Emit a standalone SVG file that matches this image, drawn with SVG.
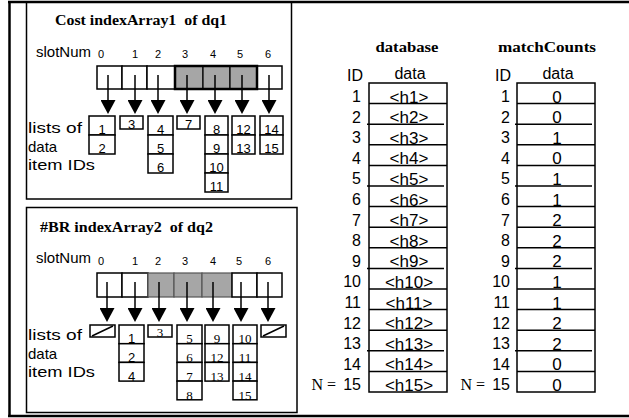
<svg xmlns="http://www.w3.org/2000/svg" width="629" height="418" viewBox="0 0 629 418">
<style>
.ln{fill:none;stroke:#000;stroke-width:1.5}
.fr{fill:none;stroke:#000;stroke-width:2.5}
.box{fill:#fff;stroke:#000;stroke-width:1.5}
.sh{fill:#a6a6a6;stroke:#000;stroke-width:1.2}
.sh2{fill:#a6a6a6;stroke:#555;stroke-width:1.2}
.thk{fill:none;stroke:#000;stroke-width:2.5}
.arr{stroke:#000;stroke-width:1.5;marker-end:url(#ah)}
.ttl{font-family:"Liberation Serif",serif;font-weight:bold;font-size:15px}
text{fill:#000}
.s{font-family:"Liberation Sans",sans-serif}
.sr{font-family:"Liberation Serif",serif}
.dg{font-size:11px;text-anchor:middle}
.lb{font-size:15px}
.n{font-size:13px;text-anchor:middle}
.t{font-size:16px}
.d{font-size:17px}
.m{text-anchor:middle}
.e{text-anchor:end}
</style>
<defs>
<marker id="ah" markerUnits="userSpaceOnUse" viewBox="0 0 14 15" refX="0" refY="7.5" markerWidth="14" markerHeight="15" orient="auto">
<path d="M0,0 L14,7.5 L0,15 Z" fill="#000"/>
</marker>
</defs>

<g id="frame">
<line class="fr" x1="9.5" y1="1" x2="9.5" y2="417"/>
<line class="fr" x1="8" y1="2" x2="629" y2="2"/>
<line class="fr" x1="8" y1="416" x2="629" y2="416"/>
</g>

<g id="panel1">
<rect class="ln" x="26.5" y="2" width="265" height="197"/>
<text class="ttl" x="55" y="25" xml:space="preserve" textLength="172" lengthAdjust="spacingAndGlyphs">Cost indexArray1  of dq1</text>
<text class="s lb" x="36" y="57" textLength="55" lengthAdjust="spacingAndGlyphs">slotNum</text>
<g class="s dg">
<text x="101" y="58">0</text><text x="135" y="58">1</text><text x="158" y="58">2</text><text x="185" y="58">3</text><text x="213" y="58">4</text><text x="240" y="58">5</text><text x="268" y="58">6</text>
</g>
<g id="array1">
<rect class="box" x="97" y="66" width="25" height="23"/>
<rect class="box" x="122" y="66" width="25" height="23"/>
<rect class="box" x="147" y="66" width="28" height="23"/>
<rect class="sh" x="175" y="66" width="28" height="23"/>
<rect class="sh" x="203" y="66" width="27" height="23"/>
<rect class="sh" x="230" y="66" width="27" height="23"/>
<rect class="box" x="257" y="66" width="25" height="23"/>
<rect class="thk" x="175" y="66" width="82" height="23"/>
</g>
<text class="s lb" x="28" y="133" textLength="54" lengthAdjust="spacingAndGlyphs">lists of</text>
<text class="s lb" x="28" y="152">data</text>
<text class="s lb" x="28" y="170" textLength="67" lengthAdjust="spacingAndGlyphs">item IDs</text>
<g id="lists1" class="s n">
<rect class="box" x="89" y="116" width="26" height="19"/><rect class="box" x="89" y="135" width="26" height="19"/>
<text x="102" y="134">1</text><text x="102" y="153">2</text>
<rect class="box" x="120" y="116" width="23" height="13"/>
<text x="131.5" y="129">3</text>
<rect class="box" x="148" y="116" width="25" height="19"/><rect class="box" x="148" y="135" width="25" height="19"/><rect class="box" x="148" y="154" width="25" height="19"/>
<text x="160.5" y="134">4</text><text x="160.5" y="153">5</text><text x="160.5" y="172">6</text>
<rect class="box" x="177" y="116" width="23" height="13"/>
<text x="188.5" y="129">7</text>
<rect class="box" x="205" y="116" width="23" height="19"/><rect class="box" x="205" y="135" width="23" height="19"/><rect class="box" x="205" y="154" width="23" height="19"/><rect class="box" x="205" y="173" width="23" height="19"/>
<text x="216.5" y="134">8</text><text x="216.5" y="153">9</text><text x="216.5" y="172">10</text><text x="216.5" y="191">11</text>
<rect class="box" x="232" y="116" width="23" height="19"/><rect class="box" x="232" y="135" width="23" height="19"/>
<text x="243.5" y="134">12</text><text x="243.5" y="153">13</text>
<rect class="box" x="260" y="116" width="23" height="19"/><rect class="box" x="260" y="135" width="23" height="19"/>
<text x="271.5" y="134">14</text><text x="271.5" y="153">15</text>
</g>
</g>

<g id="panel2">
<rect class="ln" x="26.5" y="207.5" width="270.5" height="205"/>
<text class="ttl" x="40" y="232" xml:space="preserve" textLength="173" lengthAdjust="spacingAndGlyphs">#BR indexArray2  of dq2</text>
<text class="s lb" x="36" y="263" textLength="55" lengthAdjust="spacingAndGlyphs">slotNum</text>
<g class="s dg">
<text x="101" y="265">0</text><text x="135" y="265">1</text><text x="158" y="265">2</text><text x="185" y="265">3</text><text x="213" y="265">4</text><text x="239" y="265">5</text><text x="268" y="265">6</text>
</g>
<g id="array2">
<rect class="box" x="97" y="273" width="25" height="24"/>
<rect class="box" x="122" y="273" width="26" height="24"/>
<rect class="sh2" x="148" y="273" width="26" height="24"/>
<rect class="sh2" x="174" y="273" width="28" height="24"/>
<rect class="sh2" x="202" y="273" width="30" height="24"/>
<rect class="box" x="232" y="273" width="25" height="24"/>
<rect class="box" x="257" y="273" width="25" height="24"/>
</g>
<text class="s lb" x="28" y="340" textLength="54" lengthAdjust="spacingAndGlyphs">lists of</text>
<text class="s lb" x="28" y="359">data</text>
<text class="s lb" x="28" y="377" textLength="67" lengthAdjust="spacingAndGlyphs">item IDs</text>
<g id="lists2" class="n">
<rect class="box" x="90" y="325" width="25" height="12"/><line class="ln" x1="92" y1="336" x2="113" y2="326"/>
<rect class="box" x="119" y="325" width="25" height="18.7"/><rect class="box" x="119" y="343.7" width="25" height="18.7"/><rect class="box" x="119" y="362.4" width="25" height="18.7"/>
<text class="s" x="131.5" y="343">1</text><text class="s" x="131.5" y="362">2</text><text class="s" x="131.5" y="381">4</text>
<rect class="box" x="148" y="325" width="24" height="12"/>
<text class="sr" x="160" y="337">3</text>
<rect class="box" x="177" y="325" width="25" height="18.7"/><rect class="box" x="177" y="343.7" width="25" height="18.7"/><rect class="box" x="177" y="362.4" width="25" height="18.7"/><rect class="box" x="177" y="381.1" width="25" height="18.7"/>
<text class="sr" x="189.5" y="343">5</text><text class="sr" x="189.5" y="362">6</text><text class="sr" x="189.5" y="381">7</text><text class="sr" x="189.5" y="400">8</text>
<rect class="box" x="205" y="325" width="24" height="18.7"/><rect class="box" x="205" y="343.7" width="24" height="18.7"/><rect class="box" x="205" y="362.4" width="24" height="18.7"/>
<text class="sr" x="217" y="343">9</text><text class="sr" x="217" y="362">12</text><text class="sr" x="217" y="381">13</text>
<rect class="box" x="233" y="325" width="24" height="18.7"/><rect class="box" x="233" y="343.7" width="24" height="18.7"/><rect class="box" x="233" y="362.4" width="24" height="18.7"/><rect class="box" x="233" y="381.1" width="24" height="18.7"/>
<text class="sr" x="245" y="343">10</text><text class="sr" x="245" y="362">11</text><text class="sr" x="245" y="381">14</text><text class="sr" x="245" y="400">15</text>
<rect class="box" x="261" y="325" width="25" height="12"/><line class="ln" x1="263" y1="336" x2="284" y2="326"/>
</g>
</g>

<g id="connectors">
<line class="arr" x1="108" y1="75" x2="108" y2="100"/>
<line class="arr" x1="135" y1="75" x2="135" y2="100"/>
<line class="arr" x1="158" y1="75" x2="158" y2="100"/>
<line class="arr" x1="187" y1="75" x2="187" y2="100"/>
<line class="arr" x1="215" y1="75" x2="215" y2="100"/>
<line class="arr" x1="242" y1="75" x2="242" y2="100"/>
<line class="arr" x1="269" y1="75" x2="269" y2="100"/>
<line class="arr" x1="107" y1="282" x2="107" y2="308"/>
<line class="arr" x1="135" y1="282" x2="135" y2="308"/>
<line class="arr" x1="159" y1="282" x2="159" y2="308"/>
<line class="arr" x1="187" y1="282" x2="187" y2="308"/>
<line class="arr" x1="213" y1="282" x2="213" y2="308"/>
<line class="arr" x1="241" y1="282" x2="241" y2="308"/>
<line class="arr" x1="268" y1="282" x2="268" y2="308"/>
</g>

<g id="database">
<text class="ttl m" x="407" y="52" textLength="63" lengthAdjust="spacingAndGlyphs">database</text>
<text class="s t m" x="355" y="81">ID</text>
<text class="s t m" x="410" y="79">data</text>
<rect class="ln" x="369" y="83" width="78" height="309"/>
<g class="ln">
<line x1="369" y1="103.6" x2="447" y2="103.6"/>
<line x1="367" y1="124.2" x2="444" y2="124.2"/>
<line x1="369" y1="144.8" x2="447" y2="144.8"/>
<line x1="369" y1="165.4" x2="447" y2="165.4"/>
<line x1="367" y1="186" x2="444" y2="186"/>
<line x1="369" y1="206.6" x2="447" y2="206.6"/>
<line x1="369" y1="227.2" x2="447" y2="227.2"/>
<line x1="369" y1="247.8" x2="447" y2="247.8"/>
<line x1="367" y1="268.4" x2="444" y2="268.4"/>
<line x1="369" y1="289" x2="447" y2="289"/>
<line x1="369" y1="309.6" x2="447" y2="309.6"/>
<line x1="369" y1="330.2" x2="447" y2="330.2"/>
<line x1="367" y1="350.8" x2="444" y2="350.8"/>
<line x1="369" y1="371.4" x2="447" y2="371.4"/>
</g>
<g class="s t e">
<text x="361" y="102">1</text><text x="361" y="122.6">2</text><text x="361" y="143.2">3</text><text x="361" y="163.8">4</text><text x="361" y="184.4">5</text><text x="361" y="205">6</text><text x="361" y="225.6">7</text><text x="361" y="246.2">8</text><text x="361" y="266.8">9</text><text x="361" y="287.4">10</text><text x="361" y="308">11</text><text x="361" y="328.6">12</text><text x="361" y="349.2">13</text><text x="361" y="369.8">14</text><text x="361" y="390.4">15</text>
</g>
<text class="sr t e" x="340" y="390.4" xml:space="preserve">N = </text>
<g class="s d m">
<text x="409" y="102.6">&lt;h1&gt;</text><text x="409" y="123.2">&lt;h2&gt;</text><text x="409" y="143.8">&lt;h3&gt;</text><text x="409" y="164.4">&lt;h4&gt;</text><text x="409" y="185">&lt;h5&gt;</text><text x="409" y="205.6">&lt;h6&gt;</text><text x="409" y="226.2">&lt;h7&gt;</text><text x="409" y="246.8">&lt;h8&gt;</text><text x="409" y="267.4">&lt;h9&gt;</text><text x="409" y="288">&lt;h10&gt;</text><text x="409" y="308.6">&lt;h11&gt;</text><text x="409" y="329.2">&lt;h12&gt;</text><text x="409" y="349.8">&lt;h13&gt;</text><text x="409" y="370.4">&lt;h14&gt;</text><text x="409" y="391">&lt;h15&gt;</text>
</g>
</g>

<g id="matchCounts">
<text class="ttl m" x="547" y="52" textLength="98" lengthAdjust="spacingAndGlyphs">matchCounts</text>
<text class="s t m" x="503" y="81">ID</text>
<text class="s t m" x="558" y="79">data</text>
<rect class="ln" x="517" y="83" width="78" height="309"/>
<g class="ln">
<line x1="517" y1="103.6" x2="595" y2="103.6"/>
<line x1="515" y1="124.2" x2="592" y2="124.2"/>
<line x1="517" y1="144.8" x2="595" y2="144.8"/>
<line x1="517" y1="165.4" x2="595" y2="165.4"/>
<line x1="515" y1="186" x2="592" y2="186"/>
<line x1="517" y1="206.6" x2="595" y2="206.6"/>
<line x1="517" y1="227.2" x2="595" y2="227.2"/>
<line x1="517" y1="247.8" x2="595" y2="247.8"/>
<line x1="515" y1="268.4" x2="592" y2="268.4"/>
<line x1="517" y1="289" x2="595" y2="289"/>
<line x1="517" y1="309.6" x2="595" y2="309.6"/>
<line x1="517" y1="330.2" x2="595" y2="330.2"/>
<line x1="515" y1="350.8" x2="592" y2="350.8"/>
<line x1="517" y1="371.4" x2="595" y2="371.4"/>
</g>
<g class="s t e">
<text x="510" y="102">1</text><text x="510" y="122.6">2</text><text x="510" y="143.2">3</text><text x="510" y="163.8">4</text><text x="510" y="184.4">5</text><text x="510" y="205">6</text><text x="510" y="225.6">7</text><text x="510" y="246.2">8</text><text x="510" y="266.8">9</text><text x="510" y="287.4">10</text><text x="510" y="308">11</text><text x="510" y="328.6">12</text><text x="510" y="349.2">13</text><text x="510" y="369.8">14</text><text x="510" y="390.4">15</text>
</g>
<text class="sr t e" x="489" y="390.4" xml:space="preserve">N = </text>
<g class="s d m">
<text x="557" y="102.6">0</text><text x="557" y="123.2">0</text><text x="557" y="143.8">1</text><text x="557" y="164.4">0</text><text x="557" y="185">1</text><text x="557" y="205.6">1</text><text x="557" y="226.2">2</text><text x="557" y="246.8">2</text><text x="557" y="267.4">2</text><text x="557" y="288">1</text><text x="557" y="308.6">1</text><text x="557" y="329.2">2</text><text x="557" y="349.8">2</text><text x="557" y="370.4">0</text><text x="557" y="391">0</text>
</g>
</g>
</svg>
